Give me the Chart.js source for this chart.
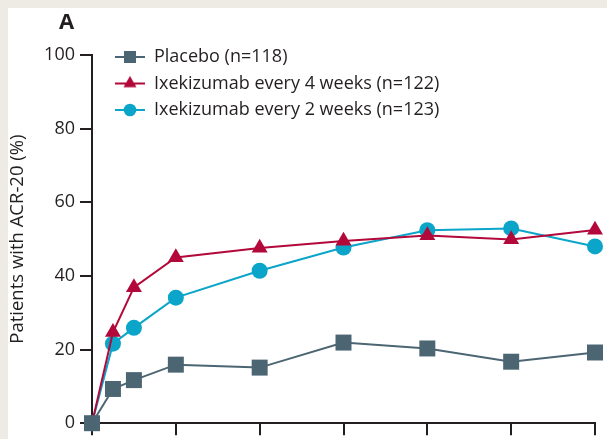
<!DOCTYPE html>
<html>
<head>
<meta charset="utf-8">
<script src="https://cdn.jsdelivr.net/npm/chart.js@4.4.1/dist/chart.umd.min.js"></script>
<style>
  html, body { margin: 0; padding: 0; background: #eeebe4; }
  #wrap { width: 607px; height: 439px; }
</style>
</head>
<body>
<div id="wrap"><canvas id="chart" width="607" height="439"></canvas></div>
<script>
// weeks since start of treatment
const weeks = [0, 1, 2, 4, 8, 12, 16, 20, 24];
const placebo = [0, 9.3, 11.7, 15.9, 15.1, 21.9, 20.3, 16.7, 19.2];
const q4w = [0, 24.7, 36.9, 45.0, 47.6, 49.5, 51.0, 49.9, 52.5];
const q2w = [0, 21.6, 25.9, 34.1, 41.4, 47.7, 52.4, 52.9, 48.0];
const seriesNames = ['Placebo (n=118)', 'Ixekizumab every 4 weeks (n=122)', 'Ixekizumab every 2 weeks (n=123)'];
const yTicks = [0, 20, 40, 60, 80, 100];
const xTicks = [0, 4, 8, 12, 16, 20, 24];

const colors = ['#4b6572', '#b3083a', '#0aa5c9'];
const markers = ['rect', 'triangle', 'circle'];
const radii = [11.3, 9.2, 8];
const legendRadii = [8.5, 7.5, 6.3];
const ink = '#231f20';

Chart.defaults.font.family = "'Open Sans', sans-serif";
Chart.defaults.color = ink;

// little line+marker pictures for the legend
function legendIcon(i) {
  const c = document.createElement('canvas');
  c.width = 30;
  c.height = 20;
  const g = c.getContext('2d');
  g.strokeStyle = colors[i];
  g.lineWidth = 2;
  g.beginPath();
  g.moveTo(0, 10);
  g.lineTo(30, 10);
  g.stroke();
  g.fillStyle = colors[i];
  Chart.helpers.drawPoint(g, { pointStyle: markers[i], radius: legendRadii[i], rotation: 0, borderWidth: 0 }, 15, 10);
  return c;
}
const icons = [0, 1, 2].map(legendIcon);

const panel = {
  id: 'panel',
  beforeDraw(chart) {
    const { ctx, width, height } = chart;
    ctx.save();
    ctx.fillStyle = '#eeebe4';
    ctx.fillRect(0, 0, width, height);
    ctx.fillStyle = '#ffffff';
    ctx.fillRect(8, 8, width - 8, height - 8);
    ctx.restore();
  },
  afterLayout(chart) {
    // legend sits inside the plot, near the top left
    const l = chart.legend, ca = chart.chartArea;
    l.left = ca.left + 14.5;
    l.top = ca.top - 15.5;
    l.right = l.left + l.width;
    l.bottom = l.top + l.height;
  },
  afterDraw(chart) {
    const { ctx, chartArea } = chart;
    ctx.save();
    ctx.fillStyle = ink;
    ctx.font = "bold 22px 'Open Sans', sans-serif";
    ctx.textBaseline = 'alphabetic';
    ctx.fillText('A', chartArea.left - 33, 28.5);
    ctx.restore();
  }
};

const series = [placebo, q4w, q2w];
const datasets = series.map((vals, i) => ({
  label: seriesNames[i],
  data: weeks.map((w, k) => ({ x: w, y: vals[k] })),
  borderColor: colors[i],
  backgroundColor: colors[i],
  borderWidth: 2,
  pointStyle: markers[i],
  pointRadius: radii[i],
  pointBorderWidth: 0,
  pointBackgroundColor: colors[i],
  tension: 0,
  clip: false
}));

new Chart(document.getElementById('chart'), {
  type: 'line',
  data: { datasets },
  plugins: [panel],
  options: {
    responsive: false,
    animation: false,
    devicePixelRatio: 1,
    layout: { padding: { top: 55, right: 12, bottom: 0, left: 0 } },
    plugins: {
      tooltip: { enabled: false },
      legend: {
        position: 'chartArea',
        align: 'start',
        labels: {
          usePointStyle: true,
          pointStyleWidth: 30,
          padding: 8.5,
          color: ink,
          font: { size: 18 },
          generateLabels(chart) {
            const items = Chart.defaults.plugins.legend.labels.generateLabels(chart);
            items.forEach((it, i) => { it.pointStyle = icons[i]; });
            return items;
          }
        }
      }
    },
    scales: {
      x: {
        type: 'linear',
        min: 0,
        max: 24,
        afterBuildTicks: s => { s.ticks = xTicks.map(v => ({ value: v })); },
        afterFit: s => { s.height = 14; },
        ticks: { display: false },
        grid: { drawOnChartArea: false, drawTicks: true, tickLength: 12, lineWidth: 2, color: ink },
        border: { display: true, width: 2, color: ink }
      },
      y: {
        min: 0,
        max: 100,
        afterBuildTicks: s => { s.ticks = yTicks.map(v => ({ value: v })); },
        afterFit: s => { s.width = 92; },
        ticks: { padding: 5, color: ink, font: { size: 18 } },
        grid: { drawOnChartArea: false, drawTicks: true, tickLength: 12, lineWidth: 2, color: ink },
        border: { display: true, width: 2, color: ink },
        title: {
          display: true,
          text: 'Patients with ACR-20 (%)',
          color: ink,
          font: { size: 18.5 },
          padding: { top: 7, bottom: 0 }
        }
      }
    }
  }
});
</script>
</body>
</html>
